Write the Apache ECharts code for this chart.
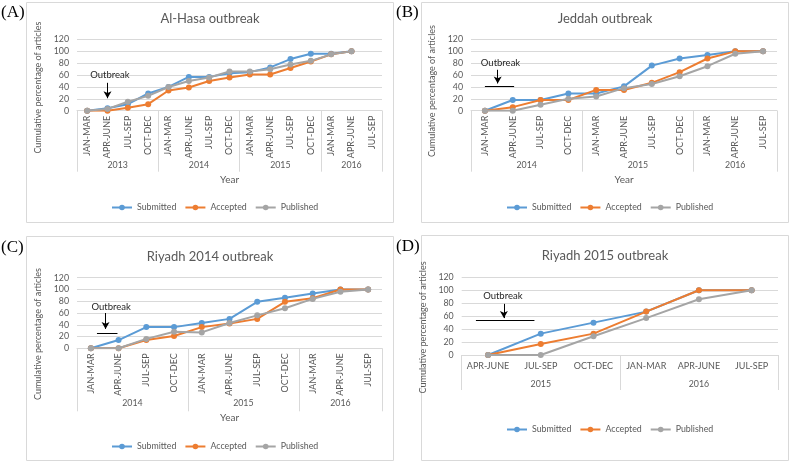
<!DOCTYPE html>
<html><head><meta charset="utf-8">
<script src="https://cdn.jsdelivr.net/npm/echarts@6/dist/echarts.min.js"></script>
<style>html,body{margin:0;padding:0;background:#fff;width:791px;height:463px;overflow:hidden}
.q{position:absolute}</style></head>
<body>
<div id="a" class="q" style="left:0;top:0;width:395px;height:230px"></div>
<div id="b" class="q" style="left:395px;top:0;width:396px;height:230px"></div>
<div id="c" class="q" style="left:0;top:230px;width:395px;height:233px"></div>
<div id="d" class="q" style="left:395px;top:230px;width:396px;height:233px"></div>
<script>
// ---------- DATA ----------
const seriesNames = ['Submitted', 'Accepted', 'Published'];
const yTicks = [0, 20, 40, 60, 80, 100, 120];

// Panel A – Al-Hasa
const quartersA = ['JAN-MAR','APR-JUNE','JUL-SEP','OCT-DEC','JAN-MAR','APR-JUNE','JUL-SEP','OCT-DEC','JAN-MAR','APR-JUNE','JUL-SEP','OCT-DEC','JAN-MAR','APR-JUNE','JUL-SEP'];
const yearsA = ['2013','2014','2015','2016'];
const yearCountsA = [4, 4, 4, 3];
const submittedA = [0, 4, 11, 29, 40, 57, 57, 63, 65, 73, 87, 96, 96, 100, null];
const acceptedA  = [0, 0, 5, 11, 34, 39, 50, 56, 61, 61, 72, 83, 95, 100, null];
const publishedA = [0, 3, 15, 25, 40, 50, 56, 66, 66, 70, 78, 84, 95, 100, null];
const outbreakA = {text: [1.12, 60], arrow: [[1, 47], [1, 21]], bar: null};

// Panel B – Jeddah
const quartersB = ['JAN-MAR','APR-JUNE','JUL-SEP','OCT-DEC','JAN-MAR','APR-JUNE','JUL-SEP','OCT-DEC','JAN-MAR','APR-JUNE','JUL-SEP'];
const yearsB = ['2014','2015','2016'];
const yearCountsB = [4, 4, 3];
const submittedB = [0, 18, 18, 29, 29, 41, 76, 88, 94, 100, 100];
const acceptedB  = [0, 6, 18, 18, 35, 35, 47, 65, 88, 100, 100];
const publishedB = [0, 0, 10, 20, 24, 38, 45, 58, 75, 96, 100];
const outbreakB = {text: [0.56, 80], arrow: [[0.46, 69], [0.46, 46]], bar: [[0, 42], [1.05, 42]]};

// Panel C – Riyadh 2014
const quartersC = quartersB.slice();
const yearsC = ['2014','2015','2016'];
const yearCountsC = [4, 4, 3];
const submittedC = [0, 14, 36, 36, 43, 50, 79, 86, 93, 100, 100];
const acceptedC  = [0, 0, 14, 21, 36, 42, 50, 79, 85, 100, 100];
const publishedC = [0, 0, 16, 28, 27, 43, 56, 68, 84, 96, 100];
const outbreakC = {text: [0.73, 71], arrow: [[0.53, 60], [0.53, 33]], bar: [[0.22, 25.5], [0.96, 25.5]]};

// Panel D – Riyadh 2015
const quartersD = ['APR-JUNE','JUL-SEP','OCT-DEC','JAN-MAR','APR-JUNE','JUL-SEP'];
const yearsD = ['2015','2016'];
const yearCountsD = [3, 3];
const submittedD = [0, 33, 50, 67, 100, 100];
const acceptedD  = [0, 17, 33, 67, 100, 100];
const publishedD = [0, 0, 29, 57, 86, 100];
const outbreakD = {text: [0.28, 91], arrow: [[0.30, 79], [0.30, 57]], bar: [[-0.23, 54], [0.88, 54]]};

// ---------- STYLE / LAYOUT ----------
const FONT = 'Lato, "Liberation Sans", sans-serif';
const TXT = '#595959';
const GRID = '#d9d9d9';
const COLORS = ['#5B9BD5', '#ED7D31', '#A5A5A5'];

function build(el, p) {
  const n = p.cats.length;
  const bounds = [-0.5];
  const centers = [];
  let s = -0.5;
  p.counts.forEach(c => { centers.push(s + c / 2); s += c; bounds.push(s); });
  const chart = echarts.init(document.getElementById(el), null, {renderer: 'canvas'});
  const vals = [p.sub, p.acc, p.pub];
  const series = seriesNames.map((nm, i) => ({
    name: nm, type: 'line', xAxisIndex: 0, yAxisIndex: 0,
    data: vals[i], symbol: 'circle', symbolSize: 6, showSymbol: true,
    connectNulls: false, animation: false,
    lineStyle: {color: COLORS[i], width: 2},
    itemStyle: {color: COLORS[i]}, z: 2 + i
  }));
  const ob = p.ob;
  const mlData = [[{coord: ob.arrow[0], symbol: 'none'}, {coord: ob.arrow[1], symbol: 'arrow'}]];
  if (ob.bar) mlData.push([{coord: ob.bar[0], symbol: 'none'}, {coord: ob.bar[1], symbol: 'none'}]);
  series.push({
    type: 'line', xAxisIndex: 1, yAxisIndex: 0, data: [], animation: false, silent: true,
    markLine: {silent: true, animation: false, symbolSize: [6, 7],
      lineStyle: {color: '#000', width: 1, type: 'solid'}, label: {show: false},
      emphasis: {disabled: true}, data: mlData},
    markPoint: {silent: true, animation: false, symbol: 'circle', symbolSize: 1,
      itemStyle: {color: 'rgba(0,0,0,0)'},
      label: {show: true, position: 'inside', formatter: 'Outbreak', color: '#262626', fontSize: 9.5, fontFamily: FONT},
      data: [{coord: ob.text}]}
  });
  const L = p.L;
  chart.setOption({
    animation: false,
    textStyle: {fontFamily: FONT},
    graphic: [{type: 'rect', shape: {x: L.frame[0] + 0.5, y: L.frame[1] + 0.5, width: L.frame[2], height: L.frame[3]},
      style: {fill: 'none', stroke: GRID, lineWidth: 1}, silent: true}],
    title: [
      {text: p.label, left: 1, top: L.labelTop, textStyle: {fontFamily: '"Liberation Serif", "DejaVu Serif", serif', fontSize: 17, fontWeight: 'normal', color: '#000'}, padding: 0},
      {text: p.title, left: 210, top: L.titleTop, textAlign: 'center', padding: 0,
       textStyle: {fontFamily: FONT, fontSize: 13, fontWeight: 'normal', color: TXT}}
    ],
    legend: {data: seriesNames, top: L.legendTop, left: 111, padding: 0,
      itemWidth: 20, itemHeight: 7, itemGap: 8,
      textStyle: {fontFamily: FONT, fontSize: 8.8, color: TXT}},
    grid: {left: L.left, right: L.right, top: L.top, bottom: L.bottom, containLabel: false},
    xAxis: [
      {type: 'category', data: p.cats, boundaryGap: true, position: 'bottom',
       axisLine: {show: true, lineStyle: {color: GRID}}, axisTick: {show: false},
       axisLabel: {rotate: p.rotate, interval: 0, margin: L.catMargin, fontSize: 9, color: TXT, fontFamily: FONT},
       splitLine: {show: false}},
      {type: 'value', min: -0.5, max: n - 0.5, position: 'bottom', gridIndex: 0,
       axisLine: {show: false},
       axisTick: {show: true, customValues: bounds, length: L.tickLen, lineStyle: {color: GRID}},
       axisLabel: {show: true, customValues: centers, margin: L.yearMargin, fontSize: 8.8, color: TXT, fontFamily: FONT,
         formatter: v => { const k = centers.findIndex(c => Math.abs(c - v) < 1e-6); return k >= 0 ? p.years[k] : ''; }},
       splitLine: {show: false},
       name: p.showYearName ? 'Year' : '', nameLocation: 'middle', nameGap: L.yearNameGap,
       nameTextStyle: {fontSize: 10, color: TXT, fontFamily: FONT}}
    ],
    yAxis: {type: 'value', min: 0, max: 120, interval: 20,
      axisLine: {show: false}, axisTick: {show: false},
      axisLabel: {margin: 8, fontSize: 8.8, color: TXT, fontFamily: FONT,
        formatter: v => yTicks.includes(v) ? String(v) : ''},
      splitLine: {lineStyle: {color: GRID, width: 1}},
      name: 'Cumulative percentage of articles', nameLocation: 'middle', nameGap: L.yNameGap,
      nameTextStyle: {fontSize: 9, color: TXT, fontFamily: FONT, padding: [0, L.yShift * 2, 0, 0]}},
    series: series
  });
}

build('a', {label: '(A)', title: 'Al-Hasa outbreak', cats: quartersA, years: yearsA, counts: yearCountsA,
  sub: submittedA, acc: acceptedA, pub: publishedA, ob: outbreakA, rotate: 90, showYearName: true,
  L: {frame: [26, 2, 367, 220], labelTop: 4, titleTop: 12, legendTop: 203, left: 77, right: 13, top: 39.5, bottom: 119.3,
      catMargin: 5, tickLen: 61, yearMargin: 50, yearNameGap: 64, yNameGap: 29, yShift: 12.5}});
build('b', {label: '(B)', title: 'Jeddah outbreak', cats: quartersB, years: yearsB, counts: yearCountsB,
  sub: submittedB, acc: acceptedB, pub: publishedB, ob: outbreakB, rotate: 90, showYearName: true,
  L: {frame: [26, 2, 367, 220], labelTop: 4, titleTop: 12, legendTop: 203, left: 76, right: 14, top: 39.5, bottom: 119.3,
      catMargin: 5, tickLen: 61, yearMargin: 50, yearNameGap: 64, yNameGap: 28, yShift: 16}});
build('c', {label: '(C)', title: 'Riyadh 2014 outbreak', cats: quartersC, years: yearsC, counts: yearCountsC,
  sub: submittedC, acc: acceptedC, pub: publishedC, ob: outbreakC, rotate: 90, showYearName: true,
  L: {frame: [26, 6, 367, 224], labelTop: 9, titleTop: 20, legendTop: 212, left: 77, right: 13, top: 47.7, bottom: 114.7,
      catMargin: 5, tickLen: 63, yearMargin: 50, yearNameGap: 64, yNameGap: 25, yShift: 21}});
build('d', {label: '(D)', title: 'Riyadh 2015 outbreak', cats: quartersD, years: yearsD, counts: yearCountsD,
  sub: submittedD, acc: acceptedD, pub: publishedD, ob: outbreakD, rotate: 0, showYearName: false,
  L: {frame: [26, 5, 367, 225], labelTop: 8, titleTop: 19, legendTop: 195, left: 66.7, right: 13, top: 47.3, bottom: 108,
      catMargin: 7, tickLen: 35, yearMargin: 25, yearNameGap: 40, yNameGap: 24, yShift: 11.3}});
</script>
</body></html>
